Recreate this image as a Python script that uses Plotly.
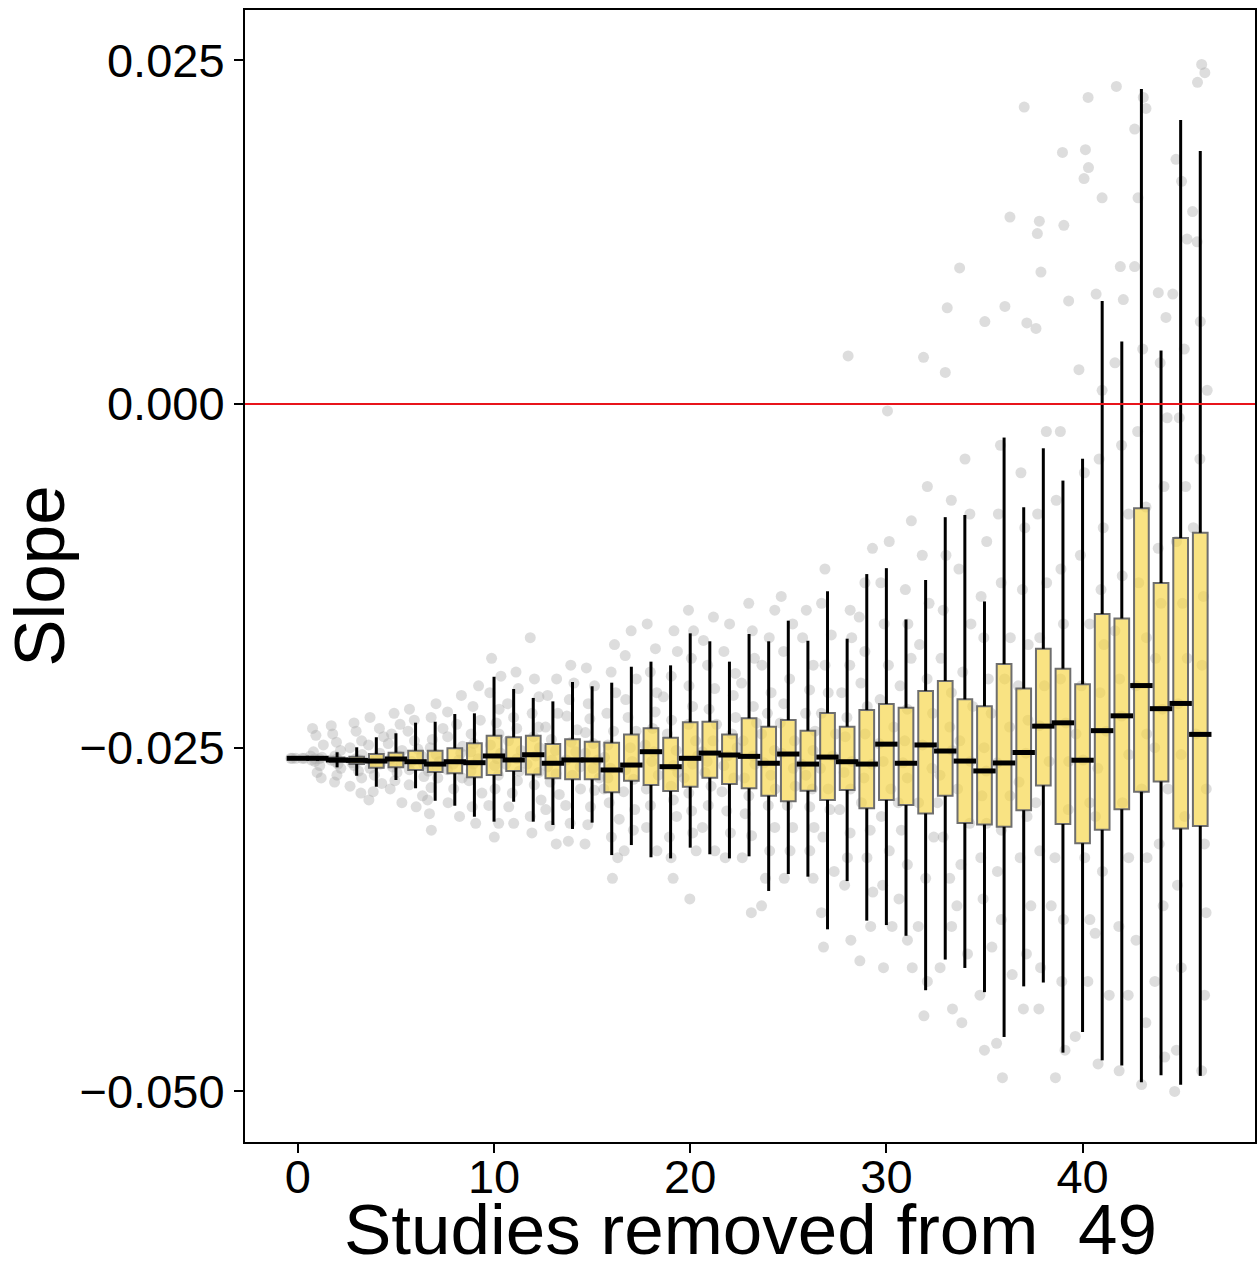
import plotly.graph_objects as go

# ---------------- data ----------------
removed = list(range(47))

q1 = [-0.02580, -0.02582, -0.02604, -0.02619, -0.02646, -0.02643, -0.02662, -0.02677, -0.02686, -0.02715,
      -0.02699, -0.02669, -0.02694, -0.02723, -0.02730, -0.02730, -0.02824, -0.02740, -0.02771, -0.02815,
      -0.02784, -0.02718, -0.02764, -0.02795, -0.02849, -0.02890, -0.02813, -0.02880, -0.02808, -0.02941,
      -0.02880, -0.02917, -0.02978, -0.02850, -0.03048, -0.03059, -0.03075, -0.02955, -0.02774, -0.03055,
      -0.03195, -0.03097, -0.02947, -0.02821, -0.02745, -0.03088, -0.03069]
median = [-0.02577, -0.02577, -0.02589, -0.02592, -0.02597, -0.02582, -0.02602, -0.02619, -0.02602, -0.02609,
          -0.02560, -0.02589, -0.02551, -0.02613, -0.02589, -0.02589, -0.02662, -0.02626, -0.02529, -0.02638,
          -0.02577, -0.02539, -0.02553, -0.02563, -0.02613, -0.02546, -0.02619, -0.02568, -0.02602, -0.02619,
          -0.02474, -0.02613, -0.02480, -0.02524, -0.02597, -0.02669, -0.02611, -0.02535, -0.02343, -0.02319,
          -0.02591, -0.02376, -0.02268, -0.02048, -0.02216, -0.02178, -0.02403]
q3 = [-0.02574, -0.02571, -0.02571, -0.02565, -0.02546, -0.02536, -0.02522, -0.02522, -0.02504, -0.02468,
      -0.02413, -0.02424, -0.02413, -0.02473, -0.02439, -0.02456, -0.02464, -0.02403, -0.02359, -0.02427,
      -0.02315, -0.02311, -0.02403, -0.02286, -0.02347, -0.02299, -0.02376, -0.02248, -0.02347, -0.02226,
      -0.02182, -0.02210, -0.02087, -0.02015, -0.02148, -0.02198, -0.01892, -0.02070, -0.01781, -0.01925,
      -0.02038, -0.01527, -0.01560, -0.00759, -0.01302, -0.00975, -0.00937]
whisker_low = [-0.02590, -0.02597, -0.02643, -0.02704, -0.02784, -0.02735, -0.02795, -0.02886, -0.02922, -0.03002,
               -0.03038, -0.02893, -0.03038, -0.03062, -0.03091, -0.03045, -0.03281, -0.03208, -0.03297, -0.03305,
               -0.03227, -0.03275, -0.03305, -0.03290, -0.03542, -0.03419, -0.03438, -0.03821, -0.03470, -0.03758,
               -0.03790, -0.03868, -0.04264, -0.04041, -0.04102, -0.04278, -0.04604, -0.04236, -0.04208, -0.04718,
               -0.04568, -0.04774, -0.04812, -0.04934, -0.04882, -0.04952, -0.04887]
whisker_high = [-0.02570, -0.02560, -0.02533, -0.02497, -0.02424, -0.02395, -0.02318, -0.02311, -0.02255, -0.02250,
                -0.01984, -0.02073, -0.02138, -0.02163, -0.02022, -0.02053, -0.02027, -0.01911, -0.01874, -0.01901,
                -0.01668, -0.01726, -0.01874, -0.01673, -0.01726, -0.01576, -0.01722, -0.01362, -0.01707, -0.01237,
                -0.01194, -0.01567, -0.01280, -0.00823, -0.00807, -0.01436, -0.00244, -0.00751, -0.00322, -0.00557,
                -0.00398, 0.00750, 0.00455, 0.02291, 0.00389, 0.02066, 0.01841]

# individual (jittered) slopes
slopes = [
    [-0.02577, -0.02577, -0.02577, -0.02577, -0.02577],
    [-0.0236, -0.0241, -0.0248, -0.0253, -0.0256, -0.0257, -0.0258, -0.0258, -0.0259, -0.0260, -0.0263, -0.0268, -0.0272],
    [-0.0234, -0.0240, -0.0246, -0.0252, -0.0256, -0.0258, -0.0259, -0.0260, -0.0262, -0.0265, -0.0270, -0.0275],
    [-0.0232, -0.0238, -0.0245, -0.0250, -0.0255, -0.0258, -0.0259, -0.0261, -0.0263, -0.0267, -0.0272, -0.0278, -0.0283],
    [-0.0228, -0.0236, -0.0242, -0.0248, -0.0254, -0.0257, -0.0260, -0.0262, -0.0265, -0.0270, -0.0276, -0.0282, -0.0288],
    [-0.0225, -0.0233, -0.0240, -0.0247, -0.0252, -0.0256, -0.0258, -0.0261, -0.0264, -0.0268, -0.0274, -0.0280, -0.0290],
    [-0.0222, -0.0230, -0.0238, -0.0245, -0.0251, -0.0256, -0.0260, -0.0262, -0.0266, -0.0271, -0.0277, -0.0285, -0.0293],
    [-0.0218, -0.0228, -0.0236, -0.0244, -0.0250, -0.0255, -0.0260, -0.0263, -0.0267, -0.0272, -0.0279, -0.0288, -0.0298, -0.0310],
    [-0.0212, -0.0224, -0.0233, -0.0242, -0.0249, -0.0254, -0.0259, -0.0262, -0.0266, -0.0272, -0.0280, -0.0290, -0.0300],
    [-0.0205, -0.0220, -0.0230, -0.0240, -0.0247, -0.0253, -0.0258, -0.0262, -0.0267, -0.0274, -0.0283, -0.0293, -0.0305],
    [-0.0185, -0.0198, -0.0210, -0.0222, -0.0232, -0.0240, -0.0248, -0.0254, -0.0258, -0.0263, -0.0270, -0.0280, -0.0292, -0.0305, -0.0315],
    [-0.0195, -0.0207, -0.0218, -0.0228, -0.0236, -0.0245, -0.0252, -0.0258, -0.0262, -0.0267, -0.0274, -0.0283, -0.0293, -0.0305],
    [-0.0170, -0.0200, -0.0213, -0.0225, -0.0235, -0.0242, -0.0250, -0.0256, -0.0262, -0.0268, -0.0277, -0.0288, -0.0300, -0.0312],
    [-0.0200, -0.0212, -0.0225, -0.0235, -0.0244, -0.0252, -0.0259, -0.0264, -0.0269, -0.0275, -0.0284, -0.0295, -0.0307, -0.0320],
    [-0.0190, -0.0203, -0.0215, -0.0227, -0.0237, -0.0246, -0.0253, -0.0259, -0.0264, -0.0270, -0.0280, -0.0292, -0.0305, -0.0318],
    [-0.0192, -0.0205, -0.0218, -0.0229, -0.0239, -0.0247, -0.0254, -0.0259, -0.0265, -0.0272, -0.0281, -0.0293, -0.0306, -0.0320],
    [-0.0175, -0.0195, -0.0210, -0.0225, -0.0238, -0.0248, -0.0257, -0.0265, -0.0272, -0.0280, -0.0290, -0.0302, -0.0315, -0.0330, -0.0345],
    [-0.0165, -0.0183, -0.0200, -0.0215, -0.0228, -0.0238, -0.0250, -0.0260, -0.0266, -0.0273, -0.0282, -0.0295, -0.0310, -0.0325],
    [-0.0160, -0.0178, -0.0195, -0.0210, -0.0224, -0.0236, -0.0248, -0.0253, -0.0260, -0.0270, -0.0280, -0.0292, -0.0308, -0.0325],
    [-0.0165, -0.0180, -0.0198, -0.0213, -0.0230, -0.0240, -0.0252, -0.0263, -0.0268, -0.0278, -0.0288, -0.0300, -0.0315, -0.0330, -0.0345],
    [-0.0150, -0.0165, -0.0185, -0.0205, -0.0220, -0.0233, -0.0245, -0.0256, -0.0262, -0.0272, -0.0283, -0.0296, -0.0312, -0.0325, -0.0360],
    [-0.0155, -0.0172, -0.0190, -0.0207, -0.0222, -0.0233, -0.0245, -0.0253, -0.0260, -0.0268, -0.0278, -0.0292, -0.0308, -0.0325],
    [-0.0160, -0.0180, -0.0196, -0.0212, -0.0228, -0.0240, -0.0250, -0.0256, -0.0263, -0.0272, -0.0282, -0.0296, -0.0312, -0.0330],
    [-0.0145, -0.0165, -0.0185, -0.0203, -0.0220, -0.0232, -0.0245, -0.0256, -0.0262, -0.0272, -0.0285, -0.0298, -0.0314, -0.0330, -0.0370],
    [-0.0150, -0.0170, -0.0190, -0.0210, -0.0225, -0.0240, -0.0252, -0.0261, -0.0270, -0.0280, -0.0292, -0.0308, -0.0325, -0.0345, -0.0365],
    [-0.0140, -0.0160, -0.0180, -0.0200, -0.0218, -0.0232, -0.0245, -0.0254, -0.0265, -0.0278, -0.0292, -0.0308, -0.0325, -0.0345],
    [-0.0150, -0.0170, -0.0190, -0.0208, -0.0225, -0.0238, -0.0252, -0.0262, -0.0270, -0.0280, -0.0293, -0.0308, -0.0325, -0.0345],
    [-0.0120, -0.0145, -0.0168, -0.0190, -0.0210, -0.0225, -0.0240, -0.0256, -0.0265, -0.0280, -0.0295, -0.0315, -0.0340, -0.0370, -0.0395],
    [0.0035, -0.0150, -0.0170, -0.0190, -0.0210, -0.0228, -0.0242, -0.0260, -0.0268, -0.0280, -0.0295, -0.0312, -0.0330, -0.0350, -0.0390],
    [-0.0105, -0.0130, -0.0155, -0.0180, -0.0203, -0.0220, -0.0240, -0.0262, -0.0272, -0.0290, -0.0310, -0.0330, -0.0355, -0.0380, -0.0405],
    [-0.0005, -0.0100, -0.0130, -0.0160, -0.0190, -0.0215, -0.0235, -0.0247, -0.0260, -0.0280, -0.0300, -0.0325, -0.0350, -0.0380, -0.0410],
    [-0.0085, -0.0135, -0.0160, -0.0185, -0.0205, -0.0222, -0.0245, -0.0261, -0.0272, -0.0290, -0.0310, -0.0335, -0.0360, -0.0390, -0.0410],
    [0.0034, -0.0060, -0.0110, -0.0145, -0.0175, -0.0200, -0.0225, -0.0248, -0.0265, -0.0290, -0.0315, -0.0345, -0.0380, -0.0420, -0.0445],
    [0.0070, 0.0023, -0.0070, -0.0110, -0.0150, -0.0185, -0.0210, -0.0235, -0.0252, -0.0270, -0.0290, -0.0315, -0.0345, -0.0380, -0.0410, -0.0440],
    [0.0099, -0.0040, -0.0080, -0.0120, -0.0160, -0.0195, -0.0220, -0.0245, -0.0260, -0.0280, -0.0305, -0.0335, -0.0365, -0.0400, -0.0450],
    [0.0060, -0.0100, -0.0140, -0.0170, -0.0200, -0.0225, -0.0250, -0.0267, -0.0285, -0.0305, -0.0330, -0.0360, -0.0395, -0.0430, -0.0470],
    [0.0136, 0.0071, -0.0030, -0.0080, -0.0130, -0.0170, -0.0200, -0.0235, -0.0261, -0.0285, -0.0310, -0.0340, -0.0375, -0.0415, -0.0465, -0.0490],
    [0.0216, 0.0059, -0.0050, -0.0090, -0.0135, -0.0175, -0.0205, -0.0230, -0.0254, -0.0275, -0.0300, -0.0330, -0.0365, -0.0400, -0.0440],
    [0.0133, 0.0124, 0.0096, 0.0055, -0.0020, -0.0080, -0.0130, -0.0170, -0.0205, -0.0234, -0.0260, -0.0290, -0.0325, -0.0365, -0.0410, -0.0440],
    [0.0183, 0.0130, 0.0075, -0.0020, -0.0070, -0.0120, -0.0160, -0.0200, -0.0232, -0.0260, -0.0295, -0.0330, -0.0375, -0.0420, -0.0470, -0.0490],
    [0.0223, 0.0185, 0.0172, 0.0164, 0.0025, -0.0050, -0.0110, -0.0160, -0.0205, -0.0240, -0.0259, -0.0290, -0.0330, -0.0375, -0.0420, -0.0460],
    [0.0150, 0.0080, 0.0010, -0.0040, -0.0090, -0.0135, -0.0175, -0.0210, -0.0238, -0.0265, -0.0300, -0.0340, -0.0385, -0.0430, -0.0480],
    [0.0231, 0.0100, 0.0076, 0.0030, -0.0030, -0.0080, -0.0125, -0.0165, -0.0200, -0.0227, -0.0255, -0.0290, -0.0330, -0.0380, -0.0430, -0.0485],
    [0.0223, 0.0215, 0.0200, 0.0150, 0.0100, 0.0040, -0.0020, -0.0075, -0.0130, -0.0170, -0.0205, -0.0240, -0.0280, -0.0330, -0.0390, -0.0450, -0.0495],
    [0.0081, 0.0063, 0.0030, -0.0010, -0.0060, -0.0105, -0.0145, -0.0185, -0.0222, -0.0250, -0.0280, -0.0320, -0.0365, -0.0420, -0.0475],
    [0.0178, 0.0162, 0.0120, 0.0080, 0.0040, -0.0010, -0.0060, -0.0100, -0.0145, -0.0185, -0.0218, -0.0255, -0.0300, -0.0350, -0.0410, -0.0470, -0.0500],
    [0.0247, 0.0241, 0.0234, 0.0140, 0.0118, 0.0060, 0.0010, -0.0040, -0.0090, -0.0140, -0.0190, -0.0240, -0.0280, -0.0320, -0.0370, -0.0430, -0.0485],
]

y_tick_vals = [-0.05, -0.025, 0.0, 0.025]
y_tick_text = ["\u22120.050", "\u22120.025", "0.000", "0.025"]
x_tick_vals = [0, 10, 20, 30, 40]
x_title = "Studies removed from  49"
y_title = "Slope"

# ---------------- figure ----------------
pts_x, pts_y = [], []
for k, vals in zip(removed, slopes):
    pts_x.extend([k] * len(vals))
    pts_y.extend(vals)

fig = go.Figure()

# jittered points (invisible box, library jitter)
fig.add_trace(go.Box(
    x=pts_x, y=pts_y, boxpoints="all", jitter=1.0, pointpos=0, width=0.85,
    fillcolor="rgba(0,0,0,0)", line=dict(width=0, color="rgba(0,0,0,0)"),
    marker=dict(color="rgba(170,170,170,0.4)", size=11, line=dict(width=0)),
    hoverinfo="skip", showlegend=False,
))

# whiskers (black, no caps)
fig.add_trace(go.Scatter(
    x=removed, y=q3, mode="markers", marker=dict(size=0.1, color="rgba(0,0,0,0)"),
    error_y=dict(type="data", symmetric=False,
                 array=[h - t for h, t in zip(whisker_high, q3)],
                 arrayminus=[0] * len(q3), color="black", thickness=3, width=0),
    hoverinfo="skip", showlegend=False,
))
fig.add_trace(go.Scatter(
    x=removed, y=q1, mode="markers", marker=dict(size=0.1, color="rgba(0,0,0,0)"),
    error_y=dict(type="data", symmetric=False,
                 array=[0] * len(q1),
                 arrayminus=[b - l for b, l in zip(q1, whisker_low)], color="black", thickness=3, width=0),
    hoverinfo="skip", showlegend=False,
))

# boxes
fig.add_trace(go.Box(
    x=removed, q1=q1, median=median, q3=q3, lowerfence=q1, upperfence=q3,
    width=0.75, whiskerwidth=0,
    fillcolor="rgba(246,214,72,0.68)", line=dict(color="#6e6e6e", width=2),
    boxpoints=False, hoverinfo="skip", showlegend=False,
))

# medians (black thick)
fig.add_trace(go.Scatter(
    x=removed, y=median, mode="markers",
    marker=dict(symbol="line-ew", size=16, line=dict(color="black", width=5)),
    hoverinfo="skip", showlegend=False,
))

fig.add_shape(type="line", xref="paper", x0=0, x1=1, yref="y", y0=0, y1=0,
              line=dict(color="#e8141b", width=2), layer="above")

FAM = "Liberation Sans, Arial, sans-serif"
axis_font = dict(family=FAM, size=47, color="black")

# x-axis title as an annotation so it can sit lower than the margin constraint allows
fig.add_annotation(text=x_title, xref="paper", yref="paper", x=0.5, y=0,
                   xanchor="center", yanchor="top", yshift=-46, showarrow=False,
                   font=dict(family=FAM, size=71, color="black"))

fig.update_layout(
    width=1258, height=1262,
    margin=dict(l=245, r=1, t=10, b=120),
    paper_bgcolor="white", plot_bgcolor="white",
    boxmode="overlay",
    showlegend=False,
    font=dict(family=FAM, color="black"),
    xaxis=dict(
        range=[-2.694, 48.79], tickvals=x_tick_vals, ticks="outside", ticklen=9, tickwidth=2,
        tickcolor="black", tickfont=axis_font, showgrid=False, zeroline=False,
        showline=True, linecolor="black", linewidth=2, mirror=True, ticklabelstandoff=-16,
    ),
    yaxis=dict(
        range=[-0.05368, 0.02866], tickvals=y_tick_vals, ticktext=y_tick_text, ticks="outside",
        ticklen=9, tickwidth=2, tickcolor="black", tickfont=axis_font, showgrid=False, zeroline=False,
        showline=True, linecolor="black", linewidth=2, mirror=True,
        title=dict(text=y_title, font=dict(family=FAM, size=71, color="black"), standoff=8),
    ),
)

fig.write_html("out.html")
